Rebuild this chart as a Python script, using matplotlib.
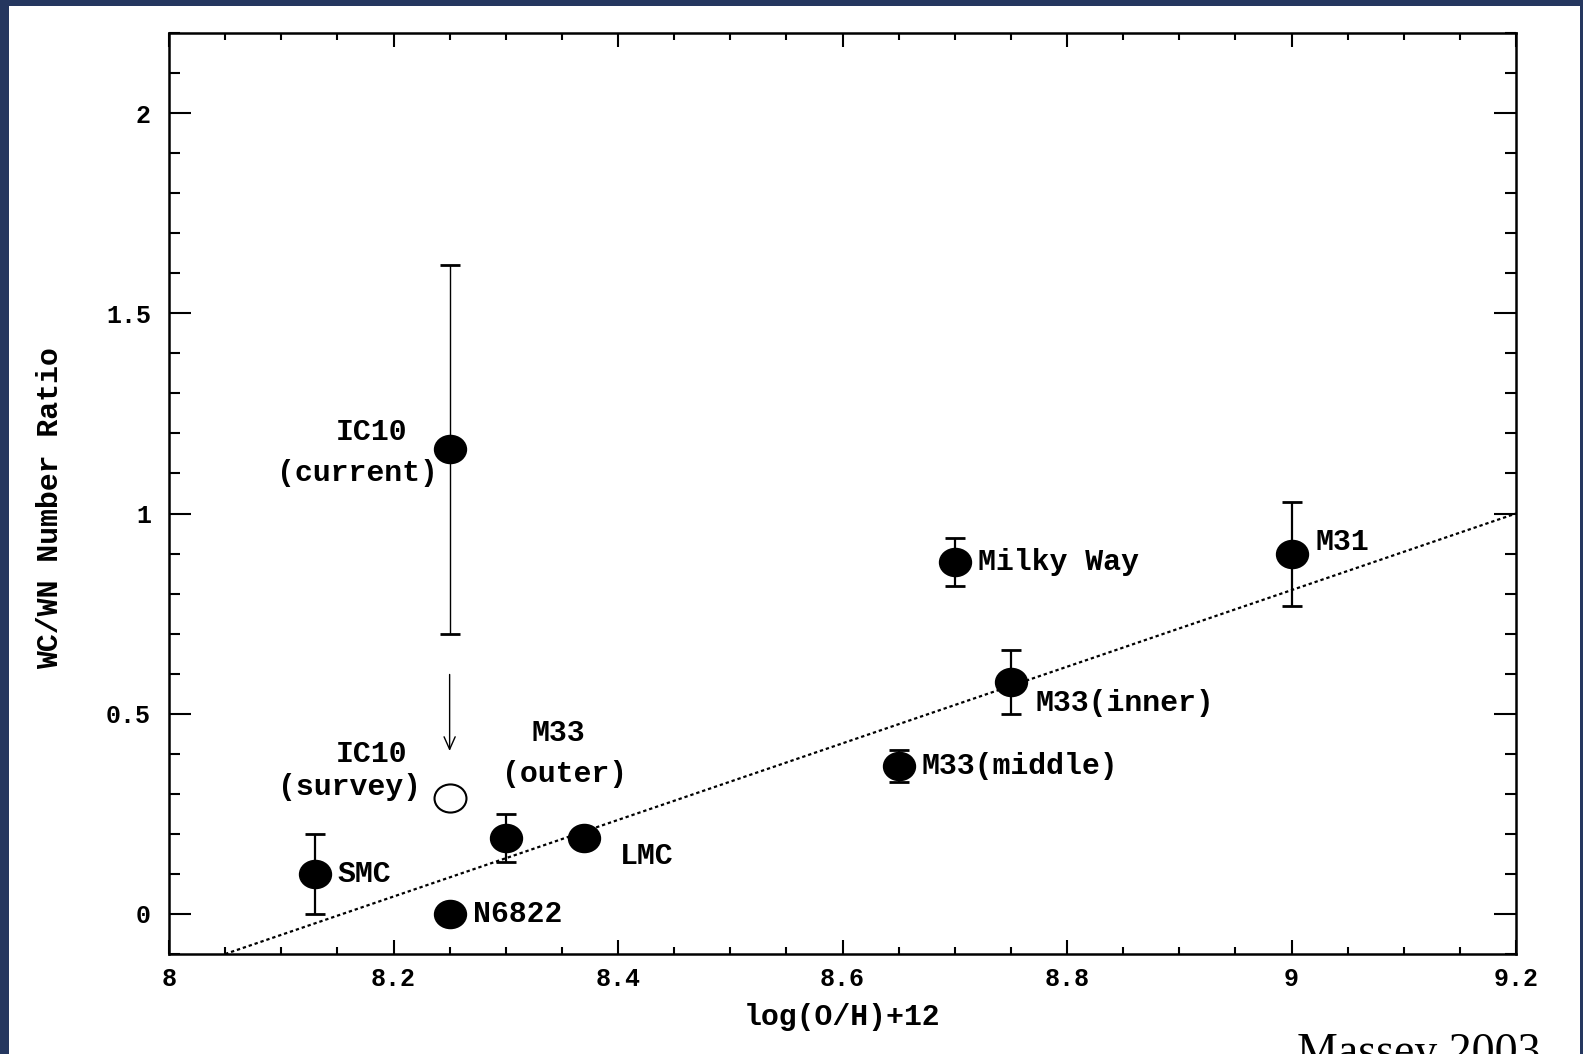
import matplotlib
matplotlib.use("Agg")
import matplotlib.pyplot as plt
from matplotlib.patches import Rectangle
from matplotlib.path import Path
from matplotlib.transforms import Affine2D

# WC/WN ratio against oxygen abundance for Local Group galaxies
names = ["SMC", "N6822", "IC10 (current)", "M33 (outer)", "LMC",
         "M33 (middle)", "Milky Way", "M33 (inner)", "M31"]
logoh = [8.13, 8.25, 8.25, 8.30, 8.37, 8.65, 8.70, 8.75, 9.00]
ratio = [0.10, 0.00, 1.16, 0.19, 0.19, 0.37, 0.88, 0.58, 0.90]
ratio_err = [0.10, 0.0, 0.46, 0.06, 0.0, 0.04, 0.06, 0.08, 0.13]

# IC10 survey value (open symbol) and the arrow pointing down to it
ic10_survey_x = 8.25
ic10_survey_y = 0.29
arrow_from = 0.605
arrow_to = 0.40

# dotted trend line
trend_x = [8.05, 9.2]
trend_y = [-0.1, 1.0]

# label text, anchor (x, y), horizontal alignment
labels = [
    ("SMC", 8.150, 0.100, "left"),
    ("N6822", 8.271, 0.000, "left"),
    ("IC10", 8.1805, 1.203, "center"),
    ("(current)", 8.1675, 1.100, "center"),
    ("IC10", 8.1805, 0.400, "center"),
    ("(survey)", 8.1604, 0.316, "center"),
    ("M33", 8.347, 0.453, "center"),
    ("(outer)", 8.352, 0.350, "center"),
    ("LMC", 8.402, 0.145, "left"),
    ("M33(middle)", 8.6705, 0.370, "left"),
    ("Milky Way", 8.7207, 0.878, "left"),
    ("M33(inner)", 8.7715, 0.528, "left"),
    ("M31", 9.021, 0.928, "left"),
]

W, H = 1583, 1054
fig = plt.figure(figsize=(W / 100, H / 100), dpi=100, facecolor="#25375f")
fig.patches.append(Rectangle((9 / W, 0), (1580 - 9) / W, (H - 6) / H,
                             transform=fig.transFigure, facecolor="white",
                             edgecolor="none", zorder=-10))

ax = fig.add_axes([169 / W, (H - 954) / H, (1516 - 169) / W, (954 - 33) / H])
ax.set_zorder(5)
ax.set_facecolor("white")

mono = "Liberation Mono"

# slightly squashed circle used as the plot symbol
ell = Path(Affine2D().scale(1.0, 0.88).transform(Path.unit_circle().vertices),
           Path.unit_circle().codes)

ax.plot(trend_x, trend_y, color="black", linestyle=(0, (1.5, 1.3)), lw=1.6, zorder=1)

for x, y, e, n in zip(logoh, ratio, ratio_err, names):
    if e > 0:
        lw = 1.0 if n.startswith("IC10") else 1.6
        ax.errorbar(x, y, yerr=e, fmt="none", ecolor="black", elinewidth=lw,
                    capsize=7.5, capthick=2.0, zorder=2)
ax.plot(logoh, ratio, linestyle="none", marker=ell, markersize=23,
        color="black", zorder=3)
ax.plot([ic10_survey_x], [ic10_survey_y], linestyle="none", marker=ell,
        markersize=23, markerfacecolor="white", markeredgecolor="black",
        markeredgewidth=1.5, zorder=3)

ax.annotate("", xy=(ic10_survey_x, arrow_to), xytext=(ic10_survey_x, arrow_from),
            arrowprops=dict(arrowstyle="->,head_length=0.9,head_width=0.4",
                            color="black", lw=1.0))

for text, x, y, ha in labels:
    ax.text(x, y, text, ha=ha, va="center", fontsize=21.5, family=mono,
            fontweight="bold")

ax.set_xlim(8, 9.2)
ax.set_ylim(-0.1, 2.2)
ax.set_xticks([8, 8.2, 8.4, 8.6, 8.8, 9, 9.2])
ax.set_xticklabels(["8", "8.2", "8.4", "8.6", "8.8", "9", "9.2"])
ax.set_xticks([8 + 0.05 * i for i in range(25)], minor=True)
ax.set_yticks([0, 0.5, 1, 1.5, 2])
ax.set_yticklabels(["0", "0.5", "1", "1.5", "2"])
ax.set_yticks([-0.1 + 0.1 * i for i in range(24)], minor=True)

ax.tick_params(which="both", direction="in", top=True, right=True,
               color="black", width=1.5)
ax.tick_params(axis="x", which="major", length=10, pad=9)
ax.tick_params(axis="x", which="minor", length=5)
ax.tick_params(axis="y", which="major", length=16, pad=13)
ax.tick_params(axis="y", which="minor", length=8)
for lab in ax.get_xticklabels() + ax.get_yticklabels():
    lab.set_family(mono)
    lab.set_fontweight("bold")
    lab.set_fontsize(18)
for sp in ax.spines.values():
    sp.set_linewidth(1.8)
    sp.set_color("black")

ax.set_xlabel("log(O/H)+12", family=mono, fontweight="bold", fontsize=21.5)
ax.set_ylabel("WC/WN Number Ratio", family=mono, fontweight="bold", fontsize=21.5)
ax.xaxis.set_label_coords((842 - 169) / 1347, -(1031 - 954) / 921)
ax.xaxis.label.set_va("bottom")
ax.yaxis.set_label_coords((64 - 169) / 1347, (954 - 508) / 921)

fig.text(1297 / W, -11 / H, "Massey 2003", family="Liberation Serif",
         fontsize=33, ha="left", va="baseline", color="black")

fig.savefig("out.png", dpi=100, facecolor=fig.get_facecolor())
